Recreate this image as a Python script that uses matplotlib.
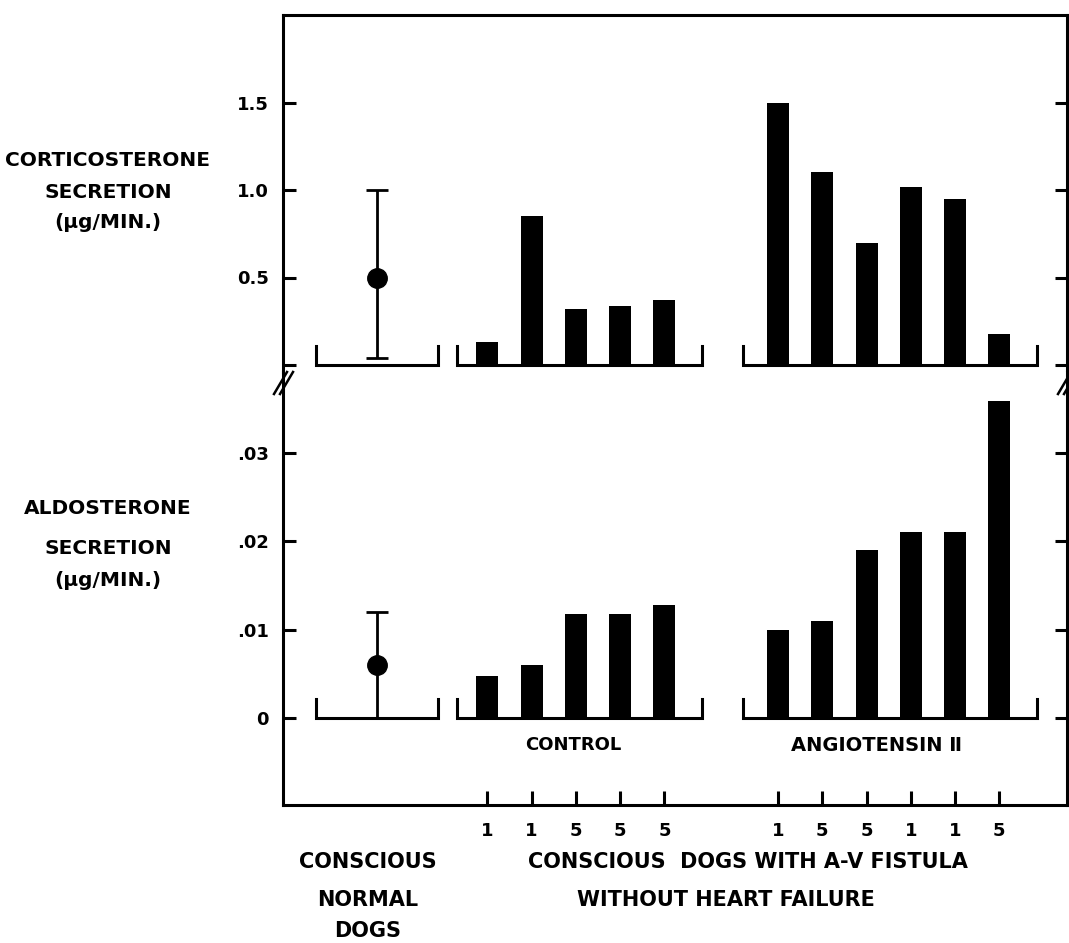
import matplotlib
matplotlib.use("Agg")
import matplotlib.pyplot as plt
from matplotlib.lines import Line2D

# values
control_doses = ['1', '1', '5', '5', '5']
angio_doses = ['1', '5', '5', '1', '1', '5']

normal_cort = 0.50
normal_cort_range = (0.04, 1.00)
control_cort = [0.13, 0.85, 0.32, 0.34, 0.37]
angio_cort = [1.50, 1.10, 0.70, 1.02, 0.95, 0.18]

normal_aldo = 0.006
normal_aldo_range = (0.0, 0.012)
control_aldo = [0.0047, 0.0060, 0.0118, 0.0118, 0.0128]
angio_aldo = [0.0100, 0.0110, 0.0190, 0.0210, 0.0210, 0.0358]

# layout
W, H = 1069, 943
plt.rcParams['font.family'] = 'DejaVu Sans'
plt.rcParams['font.weight'] = 'bold'

fig = plt.figure(figsize=(W / 100, H / 100), dpi=100)

def fx(px):
    return px / W

def fy(py):
    return 1 - py / H

left, right = 283, 1067
top, mid, bottom = 15, 372, 805
ax_top = fig.add_axes([fx(left), fy(mid), fx(right) - fx(left), fy(top) - fy(mid)])
ax_bot = fig.add_axes([fx(left), fy(bottom), fx(right) - fx(left), fy(mid) - fy(bottom)])

x_normal = 0.0
x_control = [2.5 + i for i in range(len(control_cort))]
x_angio = [9.07 + i for i in range(len(angio_cort))]
xlim = (-2.12, 15.6)
bar_w = 0.5
lw = 2.2

brackets = [(-1.38, 1.38), (1.81, 7.36), (8.28, 14.92)]

def draw_panel(ax, normal, nrange, ctrl, ang, hook):
    ax.bar(x_control, ctrl, width=bar_w, color='black')
    ax.bar(x_angio, ang, width=bar_w, color='black')
    ax.errorbar([x_normal], [normal],
                yerr=[[normal - nrange[0]], [nrange[1] - normal]],
                fmt='o', color='black', markersize=14, elinewidth=2,
                capsize=8, capthick=2)
    for a, b in brackets:
        ax.plot([a, a, b, b], [hook, 0, 0, hook], color='black', lw=lw,
                solid_joinstyle='miter')
    ax.set_xlim(*xlim)
    for s in ax.spines.values():
        s.set_linewidth(lw)
    ax.tick_params(axis='y', direction='in', length=9, width=lw, right=True,
                   labelsize=13, pad=10)

# corticosterone panel
draw_panel(ax_top, normal_cort, normal_cort_range, control_cort, angio_cort, 0.11)
ax_top.set_ylim(-0.04, 2.0)
ax_top.set_yticks([0, 0.5, 1.0, 1.5], ['', '0.5', '1.0', '1.5'])
ax_top.set_xticks([])
ax_top.spines['bottom'].set_visible(False)

# aldosterone panel
draw_panel(ax_bot, normal_aldo, normal_aldo_range, control_aldo, angio_aldo, 0.0021)
ax_bot.set_ylim(-0.00983, 0.0391)
ax_bot.set_yticks([0, 0.01, 0.02, 0.03], ['0', '.01', '.02', '.03'])
ax_bot.spines['top'].set_visible(False)
ax_bot.set_xticks(x_control + x_angio, control_doses + angio_doses)
ax_bot.tick_params(axis='x', direction='in', length=10, width=lw,
                   labelsize=13, pad=12)

ax_bot.text(sum(x_control) / len(x_control) - 0.05, -0.00305, 'CONTROL',
            ha='center', va='center', fontsize=13)
ax_bot.text(sum(x_angio) / len(x_angio) - 0.28, -0.00305, 'ANGIOTENSIN \u2161',
            ha='center', va='center', fontsize=14)

# axis break marks
for bx in (left, right):
    for off in (0, 6):
        fig.add_artist(Line2D([fx(bx - 9 + off), fx(bx + 4 + off)],
                              [fy(394), fy(372)], color='black', lw=1.8))

# side labels
for y, t in [(160, 'CORTICOSTERONE'), (192, 'SECRETION'), (223, '(\u03bcg/MIN.)'),
             (508, 'ALDOSTERONE'), (548, 'SECRETION'), (580, '(\u03bcg/MIN.)')]:
    fig.text(fx(108), fy(y), t, ha='center', va='center', fontsize=14.5)

# bottom labels
for y, t in [(862, 'CONSCIOUS'), (900, 'NORMAL'), (931, 'DOGS')]:
    fig.text(fx(368), fy(y), t, ha='center', va='center', fontsize=15)
fig.text(fx(748), fy(862), 'CONSCIOUS  DOGS WITH A-V FISTULA',
         ha='center', va='center', fontsize=15)
fig.text(fx(726), fy(900), 'WITHOUT HEART FAILURE',
         ha='center', va='center', fontsize=15)

fig.savefig('out.png', dpi=100, facecolor='white')
